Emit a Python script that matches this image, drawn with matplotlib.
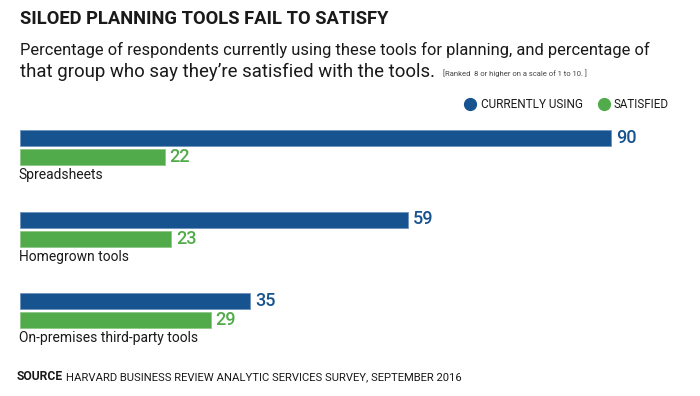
import matplotlib

matplotlib.use("Agg")
import matplotlib.pyplot as plt
import numpy as np

TOOLS = ["Spreadsheets", "Homegrown tools", "On-premises third-party tools"]
CURRENTLY_USING = [90, 59, 35]
SATISFIED = [22, 23, 29]

BLUE = "#16538f"
GREEN = "#52ab4a"
TEXT = "#1a1a1a"
FONT = ["Roboto", "DejaVu Sans"]

W, H = 700, 396


def px(x, y):
    return x / W, 1 - y / H


def fit_text(fig, x, y, s, width, **kw):
    """Place text at pixel (x, y) and scale its size so it spans `width` pixels."""
    t = fig.text(*px(x, y), s, fontsize=10, **kw)
    fig.canvas.draw()
    w = t.get_window_extent().width
    t.set_fontsize(10 * width / w)
    return t


def main() -> None:
    plt.rcParams["font.family"] = FONT
    fig = plt.figure(figsize=(W / 100, H / 100), dpi=100)

    # bar area in pixel coordinates (y downwards)
    ax = fig.add_axes([20 / W, (H - 350) / H, 657 / W, 230 / H])
    ax.set_xlim(0, 100)
    ax.set_ylim(350, 120)
    ax.axis("off")

    group_top = 138 + np.arange(len(TOOLS)) * 81.5
    bar_h = 16
    for i, tool in enumerate(TOOLS):
        yb = group_top[i]
        yg = yb + 19
        ax.barh(yb, CURRENTLY_USING[i], height=bar_h, color=BLUE, edgecolor="#6f93bd", linewidth=0.6)
        ax.barh(yg, SATISFIED[i], height=bar_h, color=GREEN, edgecolor="#8cc886", linewidth=0.6)
        ax.text(CURRENTLY_USING[i] + 0.75, yb, str(CURRENTLY_USING[i]), color=BLUE,
                fontsize=13, fontweight="medium", va="center", ha="left")
        ax.text(SATISFIED[i] + 0.75, yg, str(SATISFIED[i]), color=GREEN,
                fontsize=13, fontweight="medium", va="center", ha="left")
        ax.text(-0.2, yg + 18, tool, color=TEXT, fontsize=10, va="center", ha="left")

    fit_text(fig, 20, 19, "SILOED PLANNING TOOLS FAIL TO SATISFY", 368,
             fontweight="bold", color=TEXT, va="center", ha="left")
    fit_text(fig, 20, 50, "Percentage of respondents currently using these tools for planning, and percentage of",
             630, color=TEXT, va="center", ha="left")
    fit_text(fig, 20, 72, "that group who say they\u2019re satisfied with the tools.",
             415, color=TEXT, va="center", ha="left")
    fit_text(fig, 443, 73, "[Ranked  8 or higher on a scale of 1 to 10. ]", 143,
             color="#444444", va="center", ha="left")

    # legend
    fit_text(fig, 481, 104, "CURRENTLY USING", 102, color=TEXT, va="center", ha="left")
    fit_text(fig, 614, 104, "SATISFIED", 55, color=TEXT, va="center", ha="left")
    for xc, c in [(470, BLUE), (604, GREEN)]:
        fig.add_artist(plt.Line2D([xc / W], [1 - 104 / H], marker="o", markersize=8.5,
                                  color=c, transform=fig.transFigure))

    fit_text(fig, 17, 377, "SOURCE", 46, fontweight="bold", color=TEXT, va="center", ha="left")
    fit_text(fig, 66, 377, "HARVARD BUSINESS REVIEW ANALYTIC SERVICES SURVEY, SEPTEMBER 2016", 394,
             color=TEXT, va="center", ha="left")

    fig.savefig("out.png", dpi=100)


if __name__ == "__main__":
    main()
